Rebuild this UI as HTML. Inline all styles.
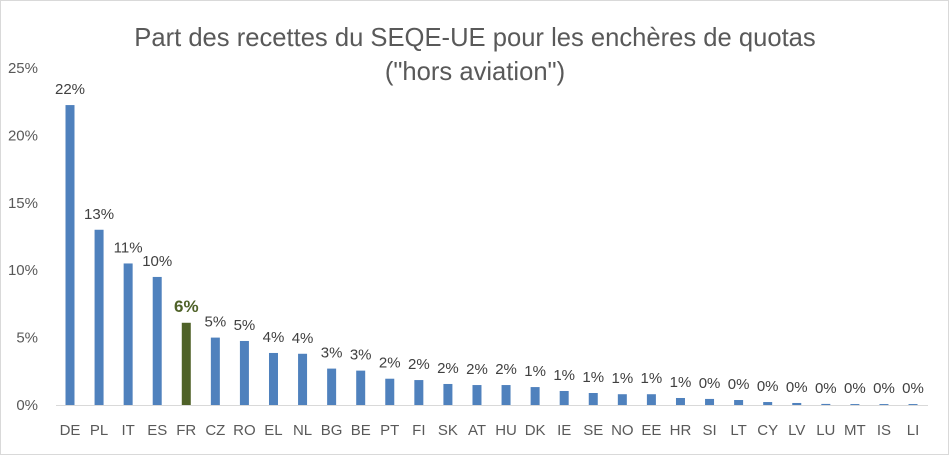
<!DOCTYPE html>
<html><head><meta charset="utf-8"><style>
body{margin:0;background:#fff}
svg{display:block;font-family:"Liberation Sans",sans-serif}
</style></head><body>
<svg id="c" width="949" height="455">
<rect x="0.5" y="0.5" width="948" height="454" fill="#fff" stroke="#d9d9d9"/>
<text x="475" y="46" text-anchor="middle" font-size="25.6" fill="#595959">Part des recettes du SEQE-UE pour les enchères de quotas</text>
<text x="475" y="80" text-anchor="middle" font-size="25.6" fill="#595959">("hors aviation")</text>
</svg>
<script>
const categories=["DE","PL","IT","ES","FR","CZ","RO","EL","NL","BG","BE","PT","FI","SK","AT","HU","DK","IE","SE","NO","EE","HR","SI","LT","CY","LV","LU","MT","IS","LI"];
const values=[22.25,13.0,10.5,9.5,6.1,5.0,4.75,3.86,3.8,2.7,2.55,1.95,1.85,1.56,1.48,1.48,1.33,1.04,0.89,0.8,0.8,0.52,0.45,0.37,0.22,0.15,0.08,0.07,0.07,0.07];
const labels=["22%","13%","11%","10%","6%","5%","5%","4%","4%","3%","3%","2%","2%","2%","2%","2%","1%","1%","1%","1%","1%","1%","0%","0%","0%","0%","0%","0%","0%","0%"];
const yTicks=[0,5,10,15,20,25];
const svg=document.getElementById('c');const NS='http://www.w3.org/2000/svg';
function y(v){return 405-v*13.48;}
function x(i){return 70+i*29.07;}
function mk(t,a,txt){const e=document.createElementNS(NS,t);for(const k in a)e.setAttribute(k,a[k]);if(txt!==undefined)e.textContent=txt;svg.appendChild(e);return e;}
yTicks.forEach(t=>{const e=mk('text',{x:38,y:y(t)+5,'text-anchor':'end','font-size':15,fill:'#595959'},t+'%');

});
const ax=mk('line',{x1:56,x2:928,y1:405.5,y2:405.5,stroke:'#d9d9d9'});


categories.forEach((c,i)=>{
 const fr=c==='FR';
 const b=mk('rect',{x:x(i)-4.5,y:y(values[i]),width:9,height:405-y(values[i]),fill:fr?'#4f6228':'#4f81bd'});
 
 
 const l=mk('text',{x:x(i),y:y(values[i])-11,'text-anchor':'middle','font-size':fr?17:15,'font-weight':fr?'bold':'normal',fill:fr?'#4f6228':'#404040'},labels[i]);
 
 
 const t=mk('text',{x:x(i),y:435,'text-anchor':'middle','font-size':15,fill:'#595959'},c);
 
 
});
</script>
</body></html>
